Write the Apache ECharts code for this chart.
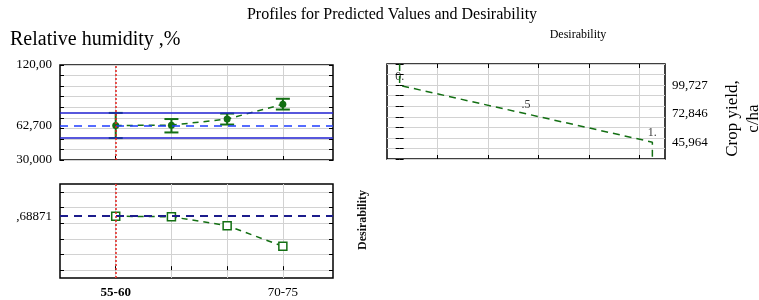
<!DOCTYPE html>
<html>
<head>
<meta charset="UTF-8">
<title>Profiles for Predicted Values and Desirability</title>
<script src="https://cdn.jsdelivr.net/npm/echarts@6/dist/echarts.min.js"></script>
<style>
html, body { margin: 0; padding: 0; background: #fff; }
#main { width: 759px; height: 300px; }
</style>
</head>
<body>
<div id="main"></div>
<script>
// relative humidity levels (x positions 1..4)
var levels = ['55-60', '60-65', '65-70', '70-75'];
var levelPos = [1, 2, 3, 4];
var currentLevel = 0;

// predicted crop yield and confidence limits
var yieldPred = [62.7, 63.0, 68.8, 82.8];
var yieldLow = [50.8, 56.1, 63.6, 77.8];
var yieldHigh = [74.6, 68.8, 74.0, 88.0];
var yieldLabelValues = [30, 62.7, 120];
var yieldLabelTexts = ['30,000', '62,700', '120,00'];

// desirability of the predicted values
var desirability = [0.68871, 0.682, 0.568, 0.305];
var desirGridValues = [0, 0.2, 0.4, 0.6, 0.8, 1.0];
var desirLabelValues = [0.68871];
var desirLabelTexts = [',68871'];

// desirability function of crop yield
var fnDesir = [0, 0, 1, 1];
var fnYield = [120, 99.727, 45.964, 30];
var fnMarkDesir = [0, 0.5, 1];
var fnMarkYield = [99.727, 72.846, 45.964];
var fnMarkTexts = ['0.', '.5', '1.'];
var fnYieldTexts = ['99,727', '72,846', '45,964'];
var fnGridDesir = [0.15, 0.35, 0.55, 0.75, 0.95];

var serif = '"Liberation Serif", "DejaVu Serif", serif';
var green = '#136f13';
var gridGray = '#d2d2d2';

function pairs(xs, ys) {
    return xs.map(function (x, i) { return [x, ys[i]]; });
}

function tick(custom) {
    var t = { show: true, inside: true, length: 4, lineStyle: { color: '#000', width: 1 } };
    if (custom) t.customValues = custom;
    return t;
}

function lookup(values, texts) {
    return function (v) {
        for (var i = 0; i < values.length; i++) {
            if (Math.abs(values[i] - v) < 1e-6) return texts[i];
        }
        return '';
    };
}

var labelFont = { fontFamily: serif, fontSize: 13, color: '#000' };
var gridStyle = { show: true, borderColor: '#000', borderWidth: 1.5, backgroundColor: '#fff', outerBoundsMode: 'none' };
var cur = currentLevel;

var myChart = echarts.init(document.getElementById('main'));

var option = {
    animation: false,
    backgroundColor: '#fff',
    title: [
        { text: 'Profiles for Predicted Values and Desirability', left: 392, top: 7, textAlign: 'center', padding: 0,
          textStyle: { fontFamily: serif, fontSize: 16, fontWeight: 'normal', color: '#000' } },
        { text: 'Relative humidity ,%', left: 10, top: 30, padding: 0,
          textStyle: { fontFamily: serif, fontSize: 20, fontWeight: 'normal', color: '#000' } },
        { text: 'Desirability', left: 578, top: 29, textAlign: 'center', padding: 0,
          textStyle: { fontFamily: serif, fontSize: 12, fontWeight: 'normal', color: '#000' } }
    ],
    grid: [
        Object.assign({ left: 60, top: 65, width: 273, height: 95 }, gridStyle),
        Object.assign({ left: 60, top: 184, width: 273, height: 94 }, gridStyle),
        Object.assign({ left: 387, top: 64, width: 278, height: 95 }, gridStyle)
    ],
    xAxis: [
        { gridIndex: 0, type: 'value', min: 0, max: 4.9, interval: 1, position: 'bottom',
          axisLine: { show: false }, axisTick: tick(levelPos), axisLabel: { show: false },
          splitLine: { show: true, lineStyle: { color: gridGray, width: 1 } } },
        { gridIndex: 1, type: 'value', min: 0, max: 4.9, interval: 1, position: 'bottom',
          axisLine: { show: false }, axisTick: tick(levelPos),
          axisLabel: Object.assign({ show: true, margin: 8,
              customValues: [levelPos[0], levelPos[levelPos.length - 1]],
              formatter: function (v) {
                  var i = levelPos.indexOf(v);
                  return i === cur ? '{b|' + levels[i] + '}' : levels[i];
              },
              rich: { b: { fontFamily: serif, fontSize: 13, fontWeight: 'bold', color: '#000' } }
          }, labelFont),
          splitLine: { show: true, lineStyle: { color: gridGray, width: 1 } } },
        { gridIndex: 2, type: 'value', min: -0.05, max: 1.05, position: 'bottom',
          axisLine: { show: false }, axisTick: tick(fnGridDesir), axisLabel: { show: false },
          splitLine: { show: true, lineStyle: { color: gridGray, width: 1 } } },
        { gridIndex: 2, type: 'value', min: -0.05, max: 1.05, position: 'top',
          axisLine: { show: false }, axisTick: tick(fnGridDesir), axisLabel: { show: false },
          splitLine: { show: false } }
    ],
    yAxis: [
        { gridIndex: 0, type: 'value', min: 30, max: 120, interval: 10, position: 'left',
          axisLine: { show: false }, axisTick: tick(),
          axisLabel: Object.assign({ show: true, margin: 8, customValues: yieldLabelValues,
              formatter: lookup(yieldLabelValues, yieldLabelTexts) }, labelFont),
          splitLine: { show: true, lineStyle: { color: gridGray, width: 1 } } },
        { gridIndex: 0, type: 'value', min: 30, max: 120, interval: 10, position: 'right',
          axisLine: { show: false }, axisTick: tick(), axisLabel: { show: false }, splitLine: { show: false } },
        { gridIndex: 1, type: 'value', min: -0.1, max: 1.1, position: 'left',
          axisLine: { show: false }, axisTick: tick(desirGridValues),
          axisLabel: Object.assign({ show: true, margin: 8, customValues: desirLabelValues,
              formatter: lookup(desirLabelValues, desirLabelTexts) }, labelFont),
          splitLine: { show: true, lineStyle: { color: gridGray, width: 1 } } },
        { gridIndex: 1, type: 'value', min: -0.1, max: 1.1, position: 'right',
          axisLine: { show: false }, axisTick: tick(desirGridValues), axisLabel: { show: false }, splitLine: { show: false },
          name: 'Desirability', nameLocation: 'middle', nameRotate: 90, nameGap: 24,
          nameTextStyle: { fontFamily: serif, fontSize: 12, fontWeight: 'bold', color: '#111', padding: [0, 0, 0, 22] } },
        { gridIndex: 2, type: 'value', min: 30, max: 120, interval: 10, position: 'left',
          axisLine: { show: false }, axisTick: tick(), axisLabel: { show: false },
          splitLine: { show: true, lineStyle: { color: gridGray, width: 1 } } },
        { gridIndex: 2, type: 'value', min: 30, max: 120, interval: 10, position: 'right',
          axisLine: { show: false }, axisTick: tick(),
          axisLabel: Object.assign({ show: true, margin: 7, customValues: fnMarkYield,
              formatter: lookup(fnMarkYield, fnYieldTexts) }, labelFont),
          splitLine: { show: false },
          name: 'Crop yield,\nc/ha', nameLocation: 'middle', nameRotate: 90, nameGap: 57,
          nameTextStyle: { fontFamily: serif, fontSize: 17, color: '#000', lineHeight: 21, padding: [0, 14, 0, 0] } }
    ],
    series: [
        {
            // reference lines for the current level, drawn beneath the marks
            type: 'scatter', xAxisIndex: 0, yAxisIndex: 0, z: 2,
            data: [[levelPos[cur], yieldPred[cur]]], symbolSize: 0,
            markLine: {
                silent: true, symbol: 'none', label: { show: false },
                data: [
                    { yAxis: yieldLow[cur], lineStyle: { color: '#1f1fd0', width: 1.5, type: 'solid' } },
                    { yAxis: yieldHigh[cur], lineStyle: { color: '#1f1fd0', width: 1.5, type: 'solid' } },
                    { yAxis: yieldPred[cur], lineStyle: { color: '#1f3cff', width: 1.5, type: [8, 6] } },
                    { xAxis: levelPos[cur], lineStyle: { color: '#e3201b', width: 1.5, type: [2, 2] } }
                ]
            }
        },
        {
            // confidence limits as error bars
            type: 'custom', xAxisIndex: 0, yAxisIndex: 0, z: 3,
            data: levelPos.map(function (x, i) { return [x, yieldLow[i], yieldHigh[i]]; }),
            encode: { x: 0, y: [1, 2] },
            renderItem: function (params, api) {
                var x = api.value(0);
                var lo = api.coord([x, api.value(1)]);
                var hi = api.coord([x, api.value(2)]);
                var cap = 7;
                var st = { stroke: green, lineWidth: 2 };
                return { type: 'group', children: [
                    { type: 'line', shape: { x1: lo[0], y1: lo[1], x2: hi[0], y2: hi[1] }, style: st },
                    { type: 'line', shape: { x1: lo[0] - cap, y1: lo[1], x2: lo[0] + cap, y2: lo[1] }, style: st },
                    { type: 'line', shape: { x1: hi[0] - cap, y1: hi[1], x2: hi[0] + cap, y2: hi[1] }, style: st }
                ] };
            }
        },
        {
            type: 'line', xAxisIndex: 0, yAxisIndex: 0, z: 4,
            data: pairs(levelPos, yieldPred),
            symbol: 'circle', symbolSize: 7,
            itemStyle: { color: green },
            lineStyle: { color: green, width: 1.5, type: [6, 5] }
        },
        {
            type: 'scatter', xAxisIndex: 1, yAxisIndex: 2, z: 2,
            data: [[levelPos[cur], desirability[cur]]], symbolSize: 0,
            markLine: {
                silent: true, symbol: 'none', label: { show: false },
                data: [
                    { yAxis: desirability[cur], lineStyle: { color: '#1c1c8c', width: 2, type: [8, 6] } },
                    { xAxis: levelPos[cur], lineStyle: { color: '#e3201b', width: 1.5, type: [2, 2] } }
                ]
            }
        },
        {
            type: 'line', xAxisIndex: 1, yAxisIndex: 2, z: 4,
            data: pairs(levelPos, desirability),
            symbol: 'rect', symbolSize: 8,
            itemStyle: { color: '#fff', borderColor: green, borderWidth: 1.5 },
            lineStyle: { color: green, width: 1.5, type: [6, 5] }
        },
        {
            type: 'line', xAxisIndex: 2, yAxisIndex: 4,
            data: pairs(fnDesir, fnYield),
            symbol: 'none',
            lineStyle: { color: green, width: 1.5, type: [7, 5] }
        },
        {
            type: 'scatter', xAxisIndex: 2, yAxisIndex: 4,
            data: pairs(fnMarkDesir, fnMarkYield),
            symbolSize: 0,
            label: { show: true, position: 'top', distance: 3,
                formatter: function (p) { return fnMarkTexts[p.dataIndex]; },
                fontFamily: serif, fontSize: 12, color: '#000' }
        }
    ]
};

myChart.setOption(option);
</script>
</body>
</html>
